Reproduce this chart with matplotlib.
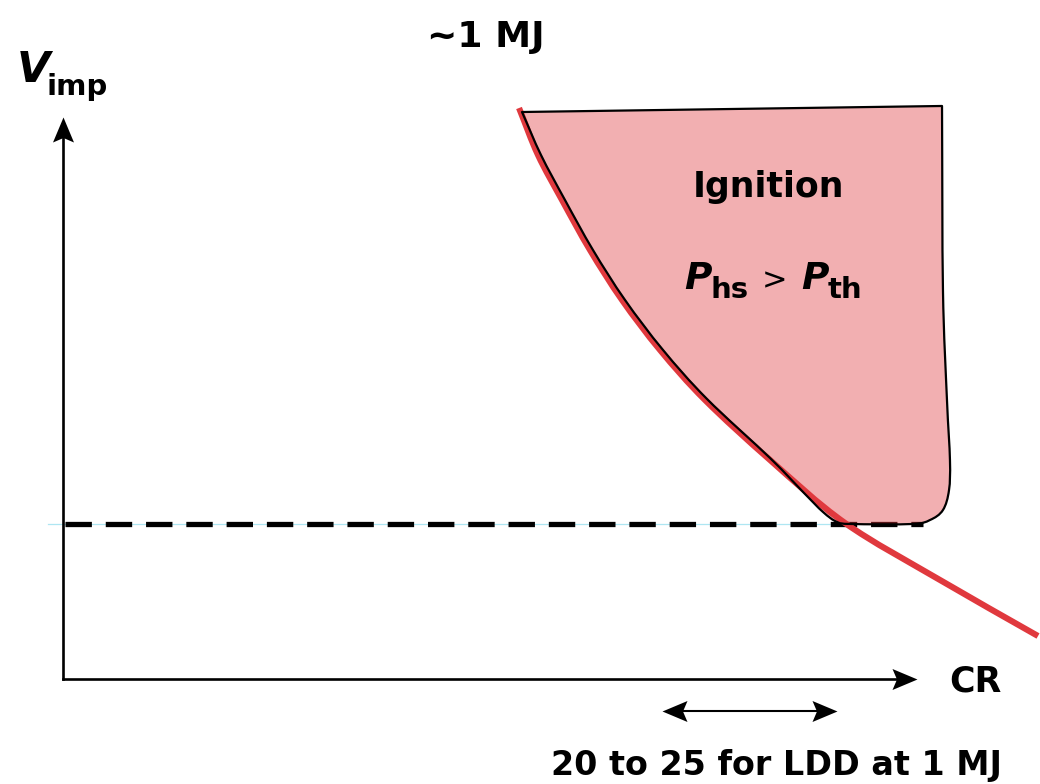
import numpy as np
import matplotlib
matplotlib.use("Agg")
import matplotlib.pyplot as plt
from matplotlib.path import Path
from matplotlib.patches import PathPatch

plt.rcParams["font.family"] = ["DejaVu Sans"]
plt.rcParams["lines.scale_dashes"] = False

# ---- schematic data (CR on x, implosion velocity on y, arbitrary units 0-100) ----
# ignition boundary curve (P_hs = P_th)
boundary_cr = [53.40, 55.62, 58.43, 61.71, 65.46, 69.91, 75.18, 82.79, 91.57, 102.69, 114.17]
boundary_v = [101.60, 93.24, 85.23, 76.33, 67.44, 58.54, 49.64, 38.97, 27.76, 17.62, 7.65]

# outline of the ignition region (left edge, bottom, right edge; top closes straight)
region_cr = [53.75, 55.97, 58.78, 62.06, 65.81, 70.26, 75.41, 82.79, 86.77, 88.99, 90.64,
             92.39, 99.41, 101.52, 103.04, 103.75, 103.86, 103.51, 103.04, 102.93]
region_v = [100.89, 93.24, 85.23, 76.33, 67.44, 58.54, 49.82, 39.32, 33.10, 29.72, 27.94,
            27.58, 27.58, 28.29, 30.07, 33.63, 38.97, 49.64, 69.22, 101.96]

# minimum implosion velocity (dashed threshold)
v_threshold = 27.6
threshold_cr = (0.2, 100.7)

# CR range marked for LDD at 1 MJ
ldd_cr_range = (70.1, 90.6)
ldd_label = "20 to 25 for LDD at 1 MJ"

red = "#e0393e"


def smooth(xs, ys):
    """Catmull-Rom curve through the points, returned as cubic Bezier segments."""
    p = np.column_stack([xs, ys]).astype(float)
    ext = np.vstack([p[0] - (p[1] - p[0]), p, p[-1] + (p[-1] - p[-2])])
    verts = [tuple(p[0])]
    codes = [Path.MOVETO]
    for i in range(1, len(ext) - 2):
        p0, p1, p2, p3 = ext[i - 1], ext[i], ext[i + 1], ext[i + 2]
        c1 = p1 + (p2 - p0) / 6.0
        c2 = p2 - (p3 - p1) / 6.0
        verts += [tuple(c1), tuple(c2), tuple(p2)]
        codes += [Path.CURVE4] * 3
    return verts, codes


fig = plt.figure(figsize=(10.4, 7.84), dpi=100)
ax = fig.add_axes([63 / 1040, 105 / 784, 854 / 1040, 562 / 784])
ax.set_xlim(0, 100)
ax.set_ylim(0, 100)
ax.axis("off")

px_x = 854 / 100.0  # pixels per x unit
px_y = 562 / 100.0  # pixels per y unit

# arrowheads as custom markers (tip at marker origin, notched back)
hw = 0.42
closed = [Path.MOVETO, Path.LINETO, Path.LINETO, Path.LINETO, Path.CLOSEPOLY]
head_right = Path([(0, 0), (-1, hw), (-0.82, 0), (-1, -hw), (0, 0)], closed)
head_left = Path([(0, 0), (1, hw), (0.82, 0), (1, -hw), (0, 0)], closed)
head_up = Path([(0, 0), (hw, -1), (0, -0.82), (-hw, -1), (0, 0)], closed)
head_len_px = 25
ms = 2 * head_len_px * 0.72

# axes with arrows
ax.plot([0, 100 - 15 / px_x], [0, 0], color="k", lw=1.9, solid_capstyle="projecting", clip_on=False)
ax.plot([0, 0], [0, 100 - 15 / px_y], color="k", lw=1.9, solid_capstyle="projecting", clip_on=False)
ax.plot([100], [0], marker=head_right, ms=ms, color="k", mew=0, clip_on=False)
ax.plot([0], [100], marker=head_up, ms=ms, color="k", mew=0, clip_on=False)

# threshold line
ax.plot([-1.8, 92.2], [v_threshold, v_threshold], color="#aee6f2", lw=0.9, clip_on=False, zorder=1)
ax.plot(threshold_cr, [v_threshold, v_threshold], color="k", lw=3.8,
        dashes=(19, 10), dash_capstyle="butt", clip_on=False, zorder=2)

# ignition region
rv, rc = smooth(region_cr, region_v)
rv += [(region_cr[0], region_v[0]), (region_cr[0], region_v[0])]
rc += [Path.LINETO, Path.CLOSEPOLY]
region_path = Path(rv, rc)
ax.add_patch(PathPatch(region_path, facecolor=red, alpha=0.4, edgecolor="none", zorder=3, clip_on=False))

# boundary curve
bv, bc = smooth(boundary_cr, boundary_v)
ax.add_patch(PathPatch(Path(bv, bc), facecolor="none", edgecolor=red, lw=4.4,
                       capstyle="butt", zorder=4, clip_on=False))

# region outline
ax.add_patch(PathPatch(region_path, facecolor="none", edgecolor="k", lw=1.6,
                       joinstyle="round", zorder=5, clip_on=False))

# LDD range double arrow
yr = -32 / px_y
ax.plot([ldd_cr_range[0] + 12 / px_x, ldd_cr_range[1] - 12 / px_x], [yr, yr],
        color="k", lw=1.5, clip_on=False)
ax.plot([ldd_cr_range[0]], [yr], marker=head_left, ms=ms, color="k", mew=0, clip_on=False)
ax.plot([ldd_cr_range[1]], [yr], marker=head_right, ms=ms, color="k", mew=0, clip_on=False)


# labels
def d(px, py):
    return ((px - 63) / px_x, (679 - py) / px_y)


ax.text(*d(486, 37), "~1 MJ", fontsize=26, fontweight="bold", ha="center", va="center")

tv = ax.text(*d(17, 82), "V", fontsize=31, fontweight="bold", fontstyle="italic",
             ha="left", va="baseline")
ax.annotate("imp", xy=(1, d(0, 95)[1]), xycoords=(tv, "data"), xytext=(-3, 0),
            textcoords="offset points", fontsize=21, fontweight="bold", ha="left", va="baseline")

ax.text(*d(975, 681), "CR", fontsize=25, fontweight="bold", ha="center", va="center")
ax.text(*d(776, 765), ldd_label, fontsize=24, fontweight="bold", ha="center", va="center")
ax.text(*d(768, 187), "Ignition", fontsize=25, fontweight="bold", ha="center", va="center", zorder=6)

y_main = d(0, 289)[1]
y_sub = d(0, 298)[1]
t1 = ax.text(*d(684, 289), "P", fontsize=27, fontweight="bold", fontstyle="italic",
             ha="left", va="baseline", zorder=6)
t2 = ax.annotate("hs", xy=(1, y_sub), xycoords=(t1, "data"), xytext=(-1, 0), textcoords="offset points",
                 fontsize=21, fontweight="bold", ha="left", va="baseline", zorder=6)
t3 = ax.annotate(">", xy=(1, y_main), xycoords=(t2, "data"), xytext=(10, 0), textcoords="offset points",
                 fontsize=22, ha="left", va="baseline", zorder=6)
t4 = ax.annotate("P", xy=(1, y_main), xycoords=(t3, "data"), xytext=(10, 0), textcoords="offset points",
                 fontsize=27, fontweight="bold", fontstyle="italic", ha="left", va="baseline", zorder=6)
ax.annotate("th", xy=(1, y_sub), xycoords=(t4, "data"), xytext=(-1, 0), textcoords="offset points",
            fontsize=21, fontweight="bold", ha="left", va="baseline", zorder=6)

fig.savefig("out.png", dpi=100)
